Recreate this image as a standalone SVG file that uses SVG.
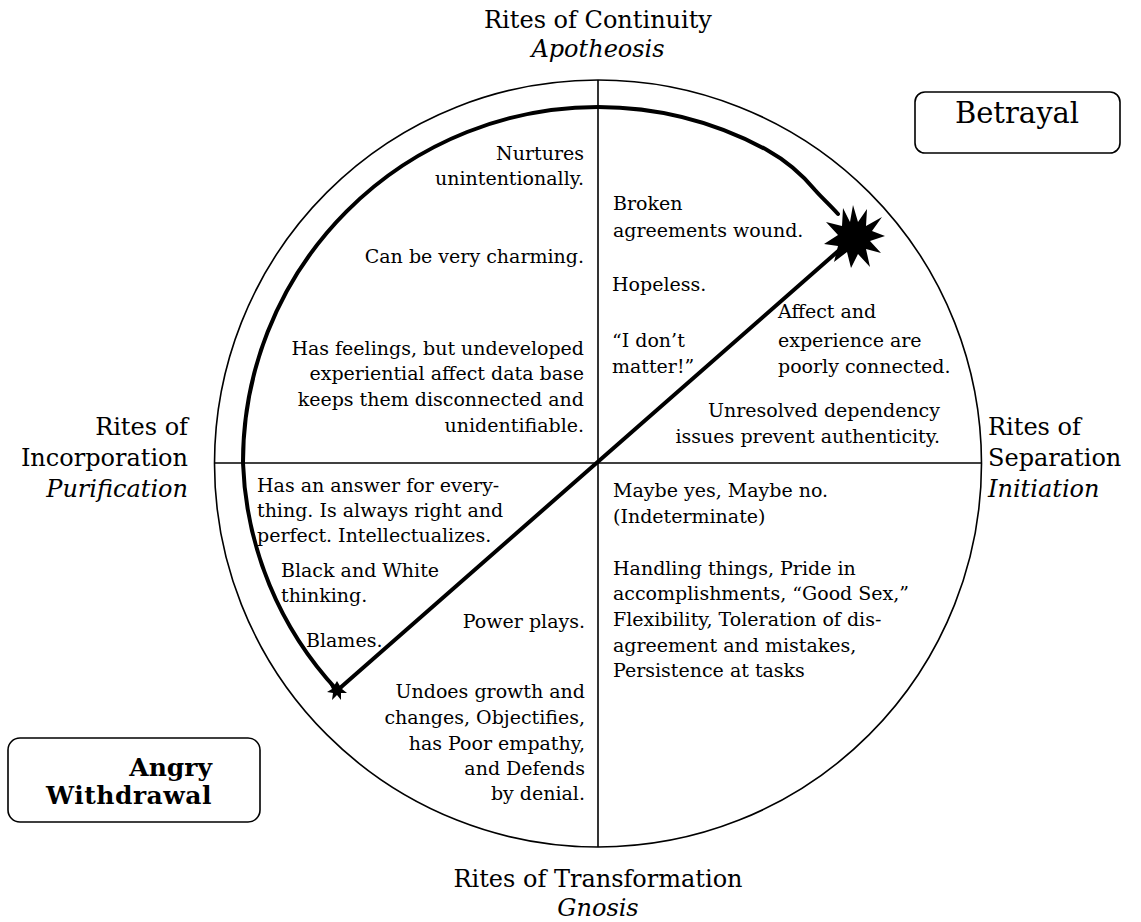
<svg xmlns="http://www.w3.org/2000/svg" width="1141" height="922" viewBox="0 0 1141 922">
<style>
text{font-family:"DejaVu Serif","Liberation Serif",serif;fill:#000}
.b{font-size:19px}
.l{font-size:24px}
.i{font-style:italic}
.r{text-anchor:end}
.m{text-anchor:middle}
.thin{fill:none;stroke:#000;stroke-width:1.6}
.thick{fill:none;stroke:#000;stroke-width:4;stroke-linecap:round;stroke-linejoin:round}
.box{fill:#fff;stroke:#000;stroke-width:1.6}
</style>
<rect width="1141" height="922" fill="#fff"/>
<g id="wheel">
<circle class="thin" cx="598" cy="463.5" r="383.5"/>
<line class="thin" x1="214" y1="463" x2="982" y2="463"/>
<line class="thin" x1="598" y1="80" x2="598" y2="847"/>
</g>
<g id="connectors">
<path class="thick" d="M838,214 C830,205 822,198 815,190 C800,172 785,160 767,150 A355 355 0 0 0 598,107 A355 355 0 0 0 243,463 A352 352 0 0 0 337,690"/>
<line class="thick" x1="853" y1="238" x2="340" y2="688"/>
<polygon fill="#000" points="853,205 858,222 867,209 866,226 882,217 872,231 885,236 870,241 881,253 866,249 870,267 858,254 851,268 847,252 834,262 838,246 824,244 838,235 826,222 842,226 843,208 850,222"/>
<polygon fill="#000" points="337,681 340,686 346,683 342,689 347,693 341,693 341,700 337,695 332,700 333,693 327,692 332,689 329,683 334,686"/>
</g>
<g id="top-label">
<text class="l m" x="598" y="28">Rites of Continuity</text>
<text class="l m i" x="598" y="57">Apotheosis</text>
</g>
<g id="right-label">
<text class="l" x="988" y="435">Rites of</text>
<text class="l" x="988" y="466">Separation</text>
<text class="l i" x="988" y="497">Initiation</text>
</g>
<g id="left-label">
<text class="l r" x="188" y="435">Rites of</text>
<text class="l r" x="188" y="466">Incorporation</text>
<text class="l r i" x="188" y="497">Purification</text>
</g>
<g id="bottom-label">
<text class="l m" x="598" y="887">Rites of Transformation</text>
<text class="l m i" x="598" y="916">Gnosis</text>
</g>
<g id="betrayal">
<rect class="box" x="915" y="92" width="205" height="61" rx="10"/>
<text class="m" x="1017" y="123" style="font-size:29px">Betrayal</text>
</g>
<g id="angry-withdrawal">
<rect class="box" x="8" y="738" width="252" height="84" rx="12"/>
<text class="r" x="212" y="776" style="font-size:25px;font-weight:bold">Angry</text>
<text class="r" x="212" y="804" style="font-size:25px;font-weight:bold;letter-spacing:0.5px">Withdrawal</text>
</g>
<g id="q-top-left">
<text class="b r" x="584" y="160">Nurtures</text>
<text class="b r" x="584" y="185">unintentionally.</text>
<text class="b r" x="584" y="263">Can be very charming.</text>
<text class="b r" x="584" y="355">Has feelings, but undeveloped</text>
<text class="b r" x="584" y="380">experiential affect data base</text>
<text class="b r" x="584" y="406">keeps them disconnected and</text>
<text class="b r" x="584" y="432">unidentifiable.</text>
</g>
<g id="q-top-right">
<text class="b" x="613" y="210">Broken</text>
<text class="b" x="613" y="237">agreements wound.</text>
<text class="b" x="612" y="291">Hopeless.</text>
<text class="b" x="612" y="347">“I don’t</text>
<text class="b" x="612" y="373">matter!”</text>
<text class="b" x="778" y="318">Affect and</text>
<text class="b" x="778" y="347">experience are</text>
<text class="b" x="778" y="373">poorly connected.</text>
<text class="b r" x="940" y="417">Unresolved dependency</text>
<text class="b r" x="940" y="443">issues prevent authenticity.</text>
</g>
<g id="q-bottom-right">
<text class="b" x="613" y="497">Maybe yes, Maybe no.</text>
<text class="b" x="613" y="523">(Indeterminate)</text>
<text class="b" x="613" y="575">Handling things, Pride in</text>
<text class="b" x="613" y="600">accomplishments, “Good Sex,”</text>
<text class="b" x="613" y="626">Flexibility, Toleration of dis-</text>
<text class="b" x="613" y="652">agreement and mistakes,</text>
<text class="b" x="613" y="677">Persistence at tasks</text>
</g>
<g id="q-bottom-left">
<text class="b" x="257" y="492">Has an answer for every-</text>
<text class="b" x="257" y="517">thing. Is always right and</text>
<text class="b" x="257" y="542">perfect. Intellectualizes.</text>
<text class="b" x="281" y="577">Black and White</text>
<text class="b" x="281" y="602">thinking.</text>
<text class="b" x="306" y="647">Blames.</text>
<text class="b r" x="585" y="628">Power plays.</text>
<text class="b r" x="585" y="698">Undoes growth and</text>
<text class="b r" x="585" y="724">changes, Objectifies,</text>
<text class="b r" x="585" y="750">has Poor empathy,</text>
<text class="b r" x="585" y="775">and Defends</text>
<text class="b r" x="585" y="800">by denial.</text>
</g>
</svg>
